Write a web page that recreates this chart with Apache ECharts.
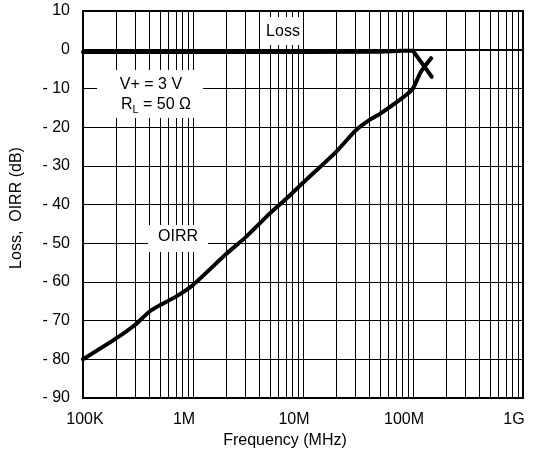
<!DOCTYPE html>
<html>
<head>
<meta charset="utf-8">
<script src="https://cdn.jsdelivr.net/npm/echarts@6/dist/echarts.min.js"></script>
<style>
  html, body { margin: 0; padding: 0; background: #fff; }
  #chart { width: 538px; height: 455px; }
</style>
</head>
<body>
<div id="chart"></div>
<script>
  // OIRR curve
  const oirrFreq = [1e5, 2e5, 3e5, 4e5, 5e5, 7e5, 1e6, 2e6, 3e6, 4e6, 5e6, 7e6,
    1e7, 2e7, 3e7, 4e7, 5e7, 7e7, 9e7, 1e8, 1.18e8, 1.46e8]
  const oirrDb = [-80, -74.6, -71.0, -67.7, -66.0, -63.8, -60.8, -52.8, -48.5, -45.0, -42.3, -38.6,
    -34.4, -26.4, -20.9, -18.2, -16.6, -13.7, -11.3, -10.0, -5.7, -2.2]

  // Loss curve
  const lossFreq = [1e5, 1e6, 1e7, 5e7, 8e7, 1e8, 1.48e8]
  const lossDb = [-0.6, -0.6, -0.6, -0.5, -0.3, -0.3, -7.0]

  // axis labels
  const xTickValues = [1e5, 1e6, 1e7, 1e8, 1e9]
  const xTickLabels = ['100K', '1M', '10M', '100M', '1G']

  // minor log grid lines (2..9 in each decade)
  const minorLines = []
  for (let d = 1e5; d < 1e9; d *= 10) {
    for (let m = 2; m <= 9; m++) minorLines.push({ xAxis: m * d })
  }

  const font = 'Liberation Sans, Arial, Helvetica, sans-serif'
  const chart = echarts.init(document.getElementById('chart'))

  chart.setOption({
    animation: false,
    grid: {
      left: 83, right: 15, top: 11, bottom: 57,
      show: true, borderColor: '#000', borderWidth: 2,
    },
    xAxis: {
      type: 'log',
      logBase: 10,
      min: 1e5,
      max: 1e9,
      name: 'Frequency (MHz)',
      nameLocation: 'middle',
      nameGap: 32,
      nameTextStyle: { color: '#000', fontSize: 16, fontFamily: font, padding: [0, 36, 0, 0] },
      axisLine: { lineStyle: { color: '#000', width: 2 } },
      axisTick: { show: false },
      axisLabel: {
        color: '#000', fontSize: 16, fontFamily: font, margin: 14,
        formatter: (v) => {
          const i = xTickValues.findIndex((t) => Math.abs(t - v) / t < 1e-6)
          if (i < 0) return ''
          return i === 0 ? '{a|' + xTickLabels[i] + '}' : '{b|' + xTickLabels[i] + '}'
        },
        rich: {
          a: { fontSize: 16, fontFamily: font, color: '#000', padding: [0, 0, 0, 4] },
          b: { fontSize: 16, fontFamily: font, color: '#000', padding: [0, 18, 0, 0] },
        },
      },
      splitLine: { show: true, lineStyle: { color: '#000', width: 1 } },
    },
    yAxis: {
      type: 'value',
      min: -90,
      max: 10,
      interval: 10,
      name: 'Loss,  OIRR (dB)',
      nameLocation: 'middle',
      nameGap: 58,
      nameTextStyle: { color: '#000', fontSize: 16, fontFamily: font, padding: [0, 7, 0, 0] },
      axisLine: { lineStyle: { color: '#000', width: 2 } },
      axisTick: { show: false },
      axisLabel: {
        color: '#000', fontSize: 16, fontFamily: font, margin: 13,
        formatter: (v) => (v < 0 ? '- ' + Math.abs(v) : String(v)),
      },
      splitLine: { show: true, lineStyle: { color: '#000', width: 1 } },
    },
    series: [
      {
        name: 'Loss',
        type: 'line',
        data: lossFreq.map((f, i) => [f, lossDb[i]]),
        showSymbol: false,
        lineStyle: { color: '#000', width: 4, join: 'round', cap: 'round' },
        z: 5,
        markLine: {
          silent: true,
          symbol: 'none',
          label: { show: false },
          lineStyle: { color: '#000', width: 1, type: 'solid' },
          data: minorLines,
          z: 1,
        },
      },
      {
        name: 'OIRR',
        type: 'line',
        data: oirrFreq.map((f, i) => [f, oirrDb[i]]),
        showSymbol: false,
        smooth: 0.2,
        lineStyle: { color: '#000', width: 4, join: 'round', cap: 'round' },
        z: 5,
      },
    ],
    graphic: [
      { type: 'rect', shape: { x: 262, y: 17, width: 40, height: 28 }, style: { fill: '#fff' }, z: 50 },
      {
        type: 'text', x: 283, y: 32, z: 51,
        style: { text: 'Loss', fill: '#000', font: '16px ' + font, align: 'center', verticalAlign: 'middle' },
      },
      { type: 'rect', shape: { x: 97, y: 70, width: 106, height: 48 }, style: { fill: '#fff' }, z: 50 },
      {
        type: 'text', x: 151, y: 85, z: 51,
        style: { text: 'V+ = 3 V', fill: '#000', font: '16px ' + font, align: 'center', verticalAlign: 'middle' },
      },
      {
        type: 'text', x: 156, y: 105, z: 51,
        style: {
          text: '{n|R}{s|L}{n| = 50 Ω}',
          align: 'center', verticalAlign: 'middle',
          rich: {
            n: { fontSize: 16, fontFamily: font, fill: '#000', color: '#000' },
            s: { fontSize: 11, fontFamily: font, fill: '#000', color: '#000', padding: [9, 0, 0, 0] },
          },
        },
      },
      { type: 'rect', shape: { x: 148, y: 225, width: 60, height: 27 }, style: { fill: '#fff' }, z: 50 },
      {
        type: 'text', x: 178, y: 237, z: 51,
        style: { text: 'OIRR', fill: '#000', font: '16px ' + font, align: 'center', verticalAlign: 'middle' },
      },
    ],
  })
</script>
</body>
</html>
